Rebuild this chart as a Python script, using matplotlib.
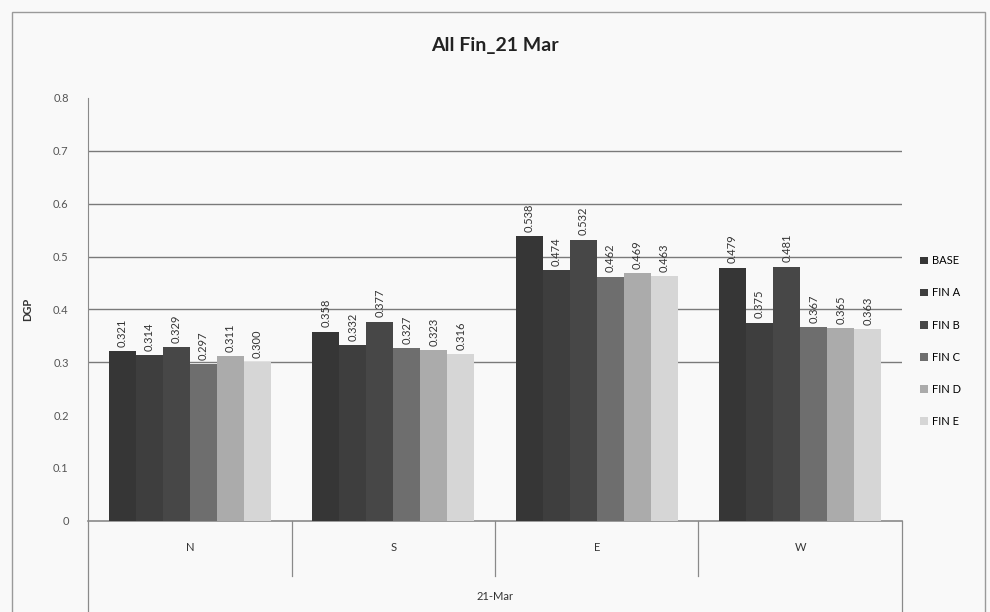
import numpy as np
import matplotlib.pyplot as plt

plt.rcParams['font.family'] = ['Lato', 'DejaVu Sans']

# ค่า DGP วันที่ 21 มี.ค. แยกตามทิศ
directions = ['N', 'S', 'E', 'W']
series_names = ['BASE', 'FIN A', 'FIN B', 'FIN C', 'FIN D', 'FIN E']
base = [0.321, 0.358, 0.538, 0.479]
fin_a = [0.314, 0.332, 0.474, 0.375]
fin_b = [0.329, 0.377, 0.532, 0.481]
fin_c = [0.297, 0.327, 0.462, 0.367]
fin_d = [0.311, 0.323, 0.469, 0.365]
fin_e = [0.300, 0.316, 0.463, 0.363]
y_ticks = [0, 0.1, 0.2, 0.3, 0.4, 0.5, 0.6, 0.7, 0.8]
y_tick_labels = ['0', '0.1', '0.2', '0.3', '0.4', '0.5', '0.6', '0.7', '0.8']
grid_levels = [0.3, 0.4, 0.5, 0.6, 0.7]

series = [base, fin_a, fin_b, fin_c, fin_d, fin_e]
colors = ['#363636', '#3e3e3e', '#474747', '#6e6e6e', '#ababab', '#d6d6d6']

fig = plt.figure(figsize=(9.9, 6.12), dpi=100, facecolor='#f9f9f9')
ax = fig.add_axes([0.089, 0.149, 0.822, 0.691])
ax.set_facecolor('#f9f9f9')

# рамка вокруг всей диаграммы
fig.patches.append(plt.Rectangle((0.012, -0.01), 0.983, 0.99, transform=fig.transFigure,
                                 fill=False, edgecolor='#9a9a9a', linewidth=1.0))

x = np.arange(len(directions))
n = len(series)
w = 0.133
for i, (vals, name, c) in enumerate(zip(series, series_names, colors)):
    pos = x - w * (n - 1) / 2 + i * w
    bars = ax.bar(pos, vals, width=w, color=c, label=name, zorder=3)
    for b, v in zip(bars, vals):
        ax.text(b.get_x() + b.get_width() / 2, v + 0.008, f'{v:.3f}',
                rotation=90, ha='center', va='bottom', fontsize=8, color='#333333')

for g in grid_levels:
    ax.axhline(g, color='#7a7a7a', linewidth=1.0, zorder=1)

ax.set_xlim(-0.5, len(directions) - 0.5)
ax.set_ylim(0, 0.8)
ax.set_yticks(y_ticks)
ax.set_yticklabels(y_tick_labels, fontsize=8, color='#555555')
ax.tick_params(axis='y', length=0, pad=14)
ax.set_xticks([])

for s in ['top', 'right']:
    ax.spines[s].set_visible(False)
ax.spines['left'].set_color('#8a8a8a')
ax.spines['bottom'].set_color('#8a8a8a')
ax.spines['bottom'].set_linewidth(1.2)

# двухуровневая ось категорий как в Excel
trans = ax.get_xaxis_transform()
for k in range(len(directions) + 1):
    bottom = -0.13 if 0 < k < len(directions) else -0.25
    ax.plot([k - 0.5, k - 0.5], [0, bottom], transform=trans, color='#8a8a8a',
            linewidth=0.9, clip_on=False)
for xi, d in zip(x, directions):
    ax.text(xi, -0.062, d, transform=trans, ha='center', va='center', fontsize=8, color='#333333')
ax.text((len(directions) - 1) / 2, -0.18, '21-Mar', transform=trans, ha='center', va='center',
        fontsize=8, color='#333333')

ax.set_ylabel('DGP', fontsize=8, fontweight='bold', color='#333333', labelpad=14)
ax.set_title('All Fin_21 Mar', fontsize=14, fontweight='bold', pad=34, color='#222222')

ax.legend(loc='center left', bbox_to_anchor=(1.01, 0.425), frameon=False, fontsize=8,
          handlelength=0.7, handleheight=0.7, labelspacing=1.9, handletextpad=0.4)

fig.savefig('out.png', dpi=100, facecolor=fig.get_facecolor())
